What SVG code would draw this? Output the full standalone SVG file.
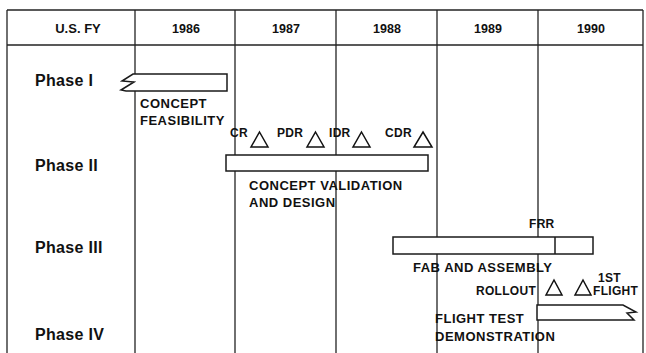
<svg xmlns="http://www.w3.org/2000/svg" width="646" height="353" viewBox="0 0 646 353">
<style>
.t{font-family:"Liberation Sans",Arial,sans-serif;font-weight:bold;fill:#111}
.hd{font-size:12.5px;text-anchor:middle}
.ph{font-size:16px;letter-spacing:0.3px}
.lb{font-size:13px;letter-spacing:0.5px}
.ms{font-size:12px;letter-spacing:0.3px}
.g{stroke:#222;stroke-width:1.3;fill:none}
.bar{fill:#fff;stroke:#1a1a1a;stroke-width:1.5}
.tri{fill:#fff;stroke:#111;stroke-width:1.5;stroke-linejoin:miter}
</style>
<rect width="646" height="353" fill="#fff"/>
<g id="grid" class="g">
<line x1="7" y1="10" x2="643" y2="10"/>
<line x1="7" y1="45" x2="643" y2="45"/>
<line x1="7" y1="10" x2="7" y2="353"/>
<line x1="135" y1="10" x2="135" y2="353"/>
<line x1="235" y1="10" x2="235" y2="353"/>
<line x1="336" y1="10" x2="336" y2="353"/>
<line x1="437" y1="10" x2="437" y2="353"/>
<line x1="538" y1="10" x2="538" y2="353"/>
<line x1="643" y1="10" x2="643" y2="353"/>
</g>
<g id="header">
<text class="t hd" x="78" y="33" style="font-size:13px">U.S. FY</text>
<text class="t hd" x="186" y="33">1986</text>
<text class="t hd" x="286" y="33">1987</text>
<text class="t hd" x="387" y="33">1988</text>
<text class="t hd" x="488" y="33">1989</text>
<text class="t hd" x="591" y="33">1990</text>
</g>
<g id="phase1">
<text class="t ph" x="35" y="86">Phase I</text>
<path class="bar" d="M227,74 H133 L122,81 L134,82 L121,90 L126,91 H227 Z"/>
<text class="t lb" x="140" y="108">CONCEPT</text>
<text class="t lb" x="140" y="125">FEASIBILITY</text>
</g>
<g id="phase2">
<text class="t ph" x="35" y="171">Phase II</text>
<rect class="bar" x="226" y="155" width="202" height="16"/>
<text class="t lb" x="249" y="190">CONCEPT VALIDATION</text>
<text class="t lb" x="249" y="207">AND DESIGN</text>
</g>
<g id="milestones2">
<text class="t ms" x="230" y="137">CR</text>
<path class="tri" d="M259.5,132 L268,147 L251,147 Z"/>
<text class="t ms" x="277" y="137">PDR</text>
<path class="tri" d="M315.5,132 L324,147 L307,147 Z"/>
<text class="t ms" x="329" y="137">IDR</text>
<path class="tri" d="M361.5,132 L370,147 L353,147 Z"/>
<text class="t ms" x="385" y="137">CDR</text>
<path class="tri" d="M423,132 L432,147 L414,147 Z"/>
</g>
<g id="phase3">
<text class="t ph" x="35" y="253">Phase III</text>
<rect class="bar" x="393" y="237" width="200" height="17"/>
<line x1="555" y1="237" x2="555" y2="254" stroke="#1a1a1a" stroke-width="1.5"/>
<text class="t ms" x="529" y="228">FRR</text>
<text class="t lb" x="413" y="272">FAB AND ASSEMBLY</text>
</g>
<g id="milestones4">
<text class="t ms" x="476" y="295">ROLLOUT</text>
<path class="tri" d="M554,280 L562,295 L546,295 Z"/>
<path class="tri" d="M583,280 L591,295 L575,295 Z"/>
<text class="t ms" x="598" y="282">1ST</text>
<text class="t ms" x="593" y="295">FLIGHT</text>
</g>
<g id="phase4">
<text class="t ph" x="35" y="340">Phase IV</text>
<path class="bar" d="M537,305 H623 L636,312 L627,313 L634,320 H537 Z"/>
<text class="t lb" x="435" y="323">FLIGHT TEST</text>
<text class="t lb" x="435" y="341">DEMONSTRATION</text>
</g>
</svg>
